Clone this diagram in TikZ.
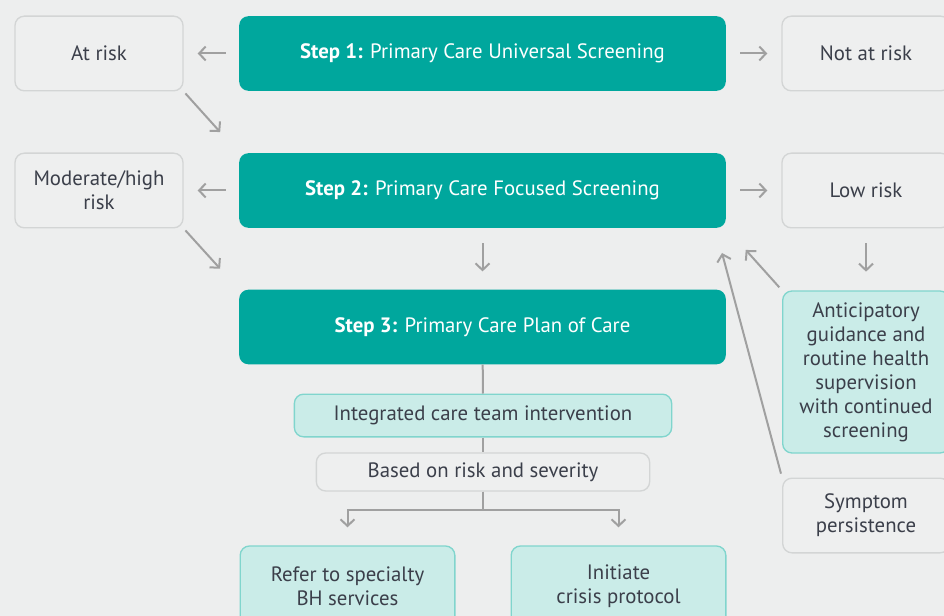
\documentclass[tikz,border=0pt]{standalone}
\usepackage{fontspec}
\setmainfont{PT Sans}
\usetikzlibrary{arrows.meta}

\definecolor{bgcol}{HTML}{EDEEEE}
\definecolor{stepteal}{HTML}{00A79D}
\definecolor{paleteal}{HTML}{CAECE8}
\definecolor{tealline}{HTML}{80D5CD}
\definecolor{boxline}{HTML}{D3D5D5}
\definecolor{boxfill}{HTML}{EEEFEF}
\definecolor{inktext}{HTML}{3B3F4A}
\definecolor{arrowgray}{HTML}{A0A0A0}

\tikzset{
  stepbox/.style={rectangle,rounded corners=7pt,fill=stepteal,text=white,
    minimum width=365pt,minimum height=56pt},
  outcome/.style={rectangle,rounded corners=7pt,fill=boxfill,draw=boxline,line width=1pt,
    text=inktext,align=center,minimum width=126pt,minimum height=56pt},
  action/.style={rectangle,rounded corners=7pt,fill=paleteal,draw=tealline,line width=1pt,
    text=inktext,align=center},
  link/.style={draw=arrowgray,line width=1.5pt},
  arr/.style={link,-{Straight Barb[length=5pt,width=10.5pt,line width=1.5pt]}}
}

\begin{document}
\begin{tikzpicture}[x=0.75pt,y=-0.75pt,font=\fontsize{15.6}{18}\selectfont]

      \fill[bgcol] (0,0) rectangle (944,616);
      \useasboundingbox (0,0) rectangle (944,616);
      \clip (0,0) rectangle (944,616);

      \node[outcome] (atrisk)  at (99,53.5)  {At risk};
      \node[stepbox] (s1)      at (482.5,53.5) {\textbf{Step 1:} Primary Care Universal Screening};
      \node[outcome] (notrisk) at (866,53.5) {Not at risk};

      \node[outcome] (modrisk) at (99,190.5) {Moderate/high\\risk};
      \node[stepbox] (s2)      at (482.5,190.5) {\textbf{Step 2:} Primary Care Focused Screening};
      \node[outcome] (lowrisk) at (866,190.5) {Low risk};

      \node[stepbox] (s3)      at (482.5,327) {\textbf{Step 3:} Primary Care Plan of Care};

      \node[action,minimum width=283pt,minimum height=32pt] (team) at (483,415.5) {Integrated care team intervention};
      \node[outcome,minimum width=250pt,minimum height=28.5pt] (basis) at (483,472) {Based on risk and severity};
      \node[action,minimum width=161pt,minimum height=60pt] (refer)  at (347.5,586) {Refer to specialty\\BH services};
      \node[action,minimum width=161pt,minimum height=60pt] (crisis) at (618.5,586) {Initiate\\crisis protocol};

      \node[action,minimum width=125pt,minimum height=121.5pt] (antic) at (866,372)
        {Anticipatory\\guidance and\\routine health\\supervision\\with continued\\screening};
      \node[outcome,minimum width=125pt] (persist) at (866,515.5) {Symptom\\persistence};

      \coordinate (fork) at (483,510);
      \coordinate (relapsetip) at (722,253);

      \path (s1) edge[arr,shorten <=9.75pt,shorten >=10.5pt] (atrisk);
      \path (s1) edge[arr,shorten <=10.5pt,shorten >=10.5pt] (notrisk);
      \path (s2) edge[arr,shorten <=9.75pt,shorten >=10.5pt] (modrisk);
      \path (s2) edge[arr,shorten <=10.5pt,shorten >=10.5pt] (lowrisk);
      \path (atrisk.south east) edge[arr,shorten <=2pt,shorten >=21pt] (s2.north west);
      \path (modrisk.south east) edge[arr,shorten <=2pt,shorten >=21pt] (s3.north west);
      \path (s2) edge[arr,shorten <=11.25pt,shorten >=13.5pt] (s3);
      \path (lowrisk) edge[arr,shorten <=11.25pt,shorten >=14pt] (antic);
      \path (antic.north west) edge[arr,shorten <=3pt,shorten >=22pt] (s2.south east);
      \path (persist.north west) edge[arr,shorten <=3pt] (relapsetip);

      \draw[link] (s3) -- (team);
      \draw[link] (team) -- (basis);
      \draw[arr,shorten >=13.5pt] (basis) -- (fork) -| (refer);
      \draw[arr,shorten >=13.5pt] (basis) -- (fork) -| (crisis);

    \end{tikzpicture}
\end{document}
